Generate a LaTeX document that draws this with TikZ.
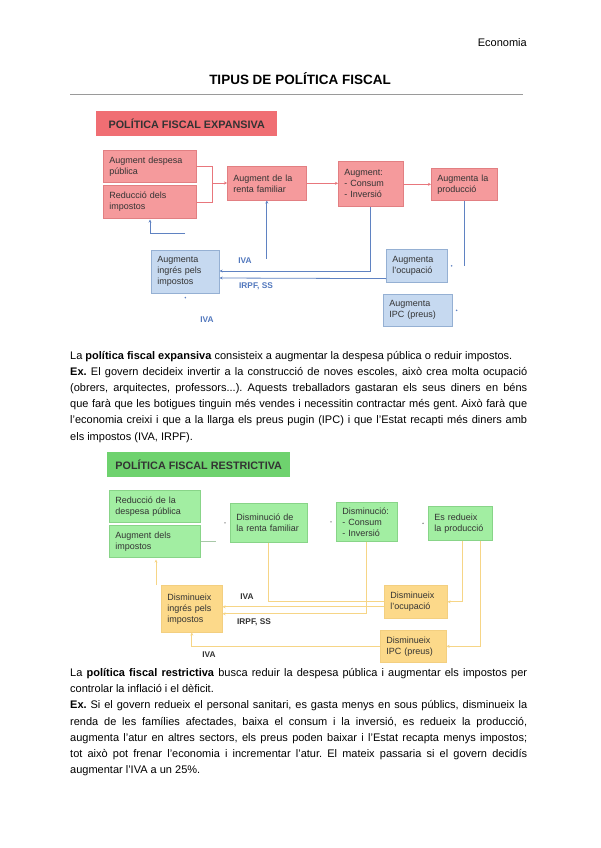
\documentclass[tikz,border=0pt]{standalone}
\usepackage{fontspec}
\setmainfont{Liberation Sans}
\usetikzlibrary{calc,arrows.meta}
\setlength{\parindent}{0pt}
\frenchspacing
\definecolor{rtitle}{HTML}{F06E73}
\definecolor{rfill}{HTML}{F59A9C}
\definecolor{rdraw}{HTML}{E27F82}
\definecolor{rline}{HTML}{E8767C}
\definecolor{bfill}{HTML}{C6D9F0}
\definecolor{bdraw}{HTML}{95B0D3}
\definecolor{bline}{HTML}{5F82C2}
\definecolor{blab}{HTML}{5177BD}
\definecolor{gtitle}{HTML}{6ED26E}
\definecolor{gfill}{HTML}{A2EEA2}
\definecolor{gdraw}{HTML}{88D488}
\definecolor{gline}{HTML}{A8C8A8}
\definecolor{yfill}{HTML}{FCD98A}
\definecolor{ydraw}{HTML}{F3CF80}
\definecolor{yline}{HTML}{F6D586}
\definecolor{txt}{HTML}{333333}
\definecolor{rulec}{HTML}{9A9A9A}
\begin{document}
\begin{tikzpicture}[x=1pt,y=-1pt,
  tip/.style={-{Stealth[length=3pt,width=3pt]}},
  boxbase/.style={rectangle, anchor=north west, inner xsep=6pt, inner ysep=0pt, align=left, line width=0.6pt,
    text=txt, font=\fontsize{9}{11}\selectfont},
  redbox/.style={boxbase, draw=rdraw, fill=rfill},
  bluebox/.style={boxbase, draw=bdraw, fill=bfill},
  greenbox/.style={boxbase, draw=gdraw, fill=gfill},
  yelbox/.style={boxbase, draw=ydraw, fill=yfill},
  titlebox/.style={rectangle, anchor=north west, inner sep=0pt, text=txt,
    font=\bfseries\fontsize{10.8}{13}\selectfont},
  rl/.style={draw=rline, line width=0.6pt},
  bl/.style={draw=bline, line width=0.8pt},
  yl/.style={draw=yline, line width=0.8pt},
  lab/.style={font=\bfseries\fontsize{8.3}{10}\selectfont, inner sep=0pt},
  body/.style={anchor=north west, inner sep=0pt, text width=457pt, align=justify,
    font=\fontsize{11}{16.2}\selectfont}
]
\fill[white] (0,0) rectangle (600,848);
\path[use as bounding box] (0,0) rectangle (600,848);

% header
\node[anchor=base east, font=\fontsize{11}{13}\selectfont, inner sep=0pt] (hdr) at (527,47) {Economia};
\node[anchor=base, font=\bfseries\fontsize{13.5}{16}\selectfont, inner sep=0pt] (ttl) at (300,85) {TIPUS DE POLÍTICA FISCAL};
\draw[rulec, line width=1pt] (70,95) -- (523,95);

% ===== expansive =====
\node[titlebox, fill=rtitle, minimum width=181pt, minimum height=25pt] (tE) at (96,111) {POLÍTICA FISCAL EXPANSIVA};
\node[redbox, text width=81pt, minimum height=32pt] (e1) at (103,150) {Augment despesa\\pública};
\node[redbox, text width=81pt, minimum height=33pt] (e2) at (103,185) {Reducció dels\\impostos};
\node[redbox, text width=67pt, minimum height=34pt] (e3) at (227,166) {Augment de la\\renta familiar};
\node[redbox, text width=53pt, minimum height=45pt] (e4) at (338,161) {Augment:\\- Consum\\- Inversió};
\node[redbox, text width=54pt, minimum height=32pt] (e5) at (431,168) {Augmenta la\\producció};
\node[bluebox, text width=56pt, minimum height=43pt] (b1) at (151,250) {Augmenta\\ingrés pels\\impostos};
\node[bluebox, text width=49pt, minimum height=33pt] (b2) at (386,249) {Augmenta\\l'ocupació};
\node[bluebox, text width=57pt, minimum height=32pt] (b3) at (383,294) {Augmenta\\IPC (preus)};

\coordinate (jE) at (212,183);
\draw[rl] (e1.east) -| (jE);
\draw[rl] (e2.east) -| (jE);
\draw[rl, tip] (jE) -- (jE -| e3.west);
\draw[rl, tip] (e3.east) -- (e3.east -| e4.west);
\draw[rl, tip] (e4.east |- e5.west) -- (e5.west);

\draw[bl, tip] ($(e2.south west)+(82,15)$) -- ($(e2.south west)+(47,15)$) -- ($(e2.south west)+(47,1)$);
\draw[bl, tip] ($(e3.south)+(0,58)$) -- (e3.south);
\draw[bl, tip] (e4.south) |- ($(b1.north east)+(0,21)$);
\draw[bl, tip] ($(b2.south west)+(0,-4)$) -- ($(b1.north east)+(0,28)$);
\draw[bl] (e5.south) -- ++(0,65);
\fill[bline] ($(b2.east)+(4,0)$) circle (0.9);
\fill[bline] ($(b3.east)+(4,0)$) circle (0.9);
\fill[bline] ($(b1.south)+(0,4)$) circle (0.9);

\node[lab, text=blab] (ivaE) at (245,261) {IVA};
\node[lab, text=blab] (irpfE) at (256,286) {IRPF, SS};
\node[lab, text=blab] (ivaE2) at (207,320) {IVA};

\node[body] (p1) at (70,347.5) {\strut La \textbf{política fiscal expansiva} consisteix a augmentar la despesa pública o reduir impostos.\par
\textbf{Ex.} El govern decideix invertir a la construcció de noves escoles, això crea molta ocupació\linebreak (obrers, arquitectes, professors...). Aquests treballadors gastaran els seus diners en béns\linebreak que farà que les botigues tinguin més vendes i necessitin contractar més gent. Això farà que\linebreak l'economia creixi i que a la llarga els preus pugin (IPC) i que l'Estat recapti més diners amb\linebreak els impostos (IVA, IRPF).};

% ===== restrictive =====
\node[titlebox, fill=gtitle, minimum width=183pt, minimum height=25pt] (tR) at (107,452) {POLÍTICA FISCAL RESTRICTIVA};
\node[greenbox, text width=79pt, minimum height=32pt] (r1) at (109,490) {Reducció de la\\despesa pública};
\node[greenbox, text width=79pt, minimum height=32pt] (r2) at (109,525) {Augment dels\\impostos};
\node[greenbox, text width=65pt, minimum height=39pt] (r3) at (230,503) {Disminució de\\la renta familiar};
\node[greenbox, text width=49pt, minimum height=39pt] (r4) at (336,502) {Disminució:\\- Consum\\- Inversió};
\node[greenbox, text width=52pt, minimum height=34pt] (r5) at (428,506) {Es redueix\\la producció};
\node[yelbox, text width=49pt, minimum height=47pt] (y1) at (161,585) {Disminueix\\ingrés pels\\impostos};
\node[yelbox, text width=51pt, minimum height=33pt] (y2) at (384,585) {Disminueix\\l'ocupació};
\node[yelbox, text width=54pt, minimum height=32pt] (y3) at (380,630) {Disminueix\\IPC (preus)};

\draw[gline, line width=0.8pt] (r2.east) -- ++(15,0);
\fill[gray] ($(r3.west)+(-5,0)$) circle (0.8);
\fill[gray] ($(r4.west)+(-5,0)$) circle (0.8);
\fill[gray] ($(r5.west)+(-5,0)$) circle (0.8);

\draw[yl, tip] ($(y1.north west)+(-5,0)$) -- ($(r2.south west)+(47,2)$);
\draw[yl] (r3.south) |- (y2.west);
\draw[yl, tip] ($(y2.west)+(0,5)$) -- ($(y1.east)+(0,-2)$);
\draw[yl, tip] (r4.south) |- ($(y1.east)+(0,5)$);
\draw[yl, tip] ($(r5.south west)+(34,0)$) |- (y2.east);
\draw[yl, tip] ($(r5.south west)+(52,0)$) |- (y3.east);
\draw[yl, tip] (y3.west) -| (y1.south);

\node[lab, text=txt] (ivaR) at (247,597) {IVA};
\node[lab, text=txt] (irpfR) at (254,622) {IRPF, SS};
\node[lab, text=txt] (ivaR2) at (209,655) {IVA};

\node[body] (p2) at (70,665) {\strut La \textbf{política fiscal restrictiva} busca reduir la despesa pública i augmentar els impostos per\linebreak controlar la inflació i el dèficit.\par
\textbf{Ex.} Si el govern redueix el personal sanitari, es gasta menys en sous públics, disminueix la\linebreak renda de les famílies afectades, baixa el consum i la inversió, es redueix la producció,\linebreak augmenta l'atur en altres sectors, els preus poden baixar i l'Estat recapta menys impostos;\linebreak tot això pot frenar l'economia i incrementar l'atur. El mateix passaria si el govern decidís\linebreak augmentar l'IVA a un 25\%.};
\end{tikzpicture}
\end{document}
